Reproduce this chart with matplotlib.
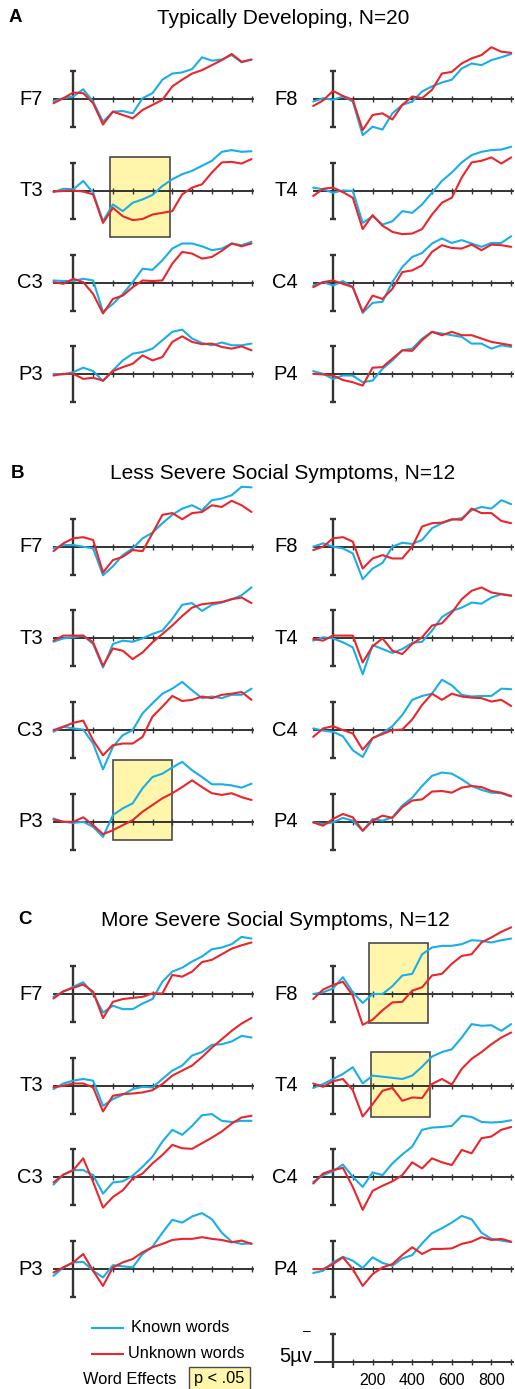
import numpy as np
import matplotlib
matplotlib.use("Agg")
import matplotlib.pyplot as plt
from matplotlib.patches import Rectangle
from matplotlib.lines import Line2D

plt.rcParams['font.family'] = ['Liberation Sans', 'DejaVu Sans']

# time axis (ms) of the sampled waveforms
times = np.arange(-100, 901, 50)

# amplitudes in microvolts read as upward deflections (the figure plots negative up)
# Section A: Typically Developing, N=20
A_F7_known = [-0.3, 0.2, 0.5, 1.8, -0.4, -4.0, -2.2, -2.1, -2.5, 0.2, 1.1, 3.5, 4.6, 4.8, 5.4, 7.5, 6.9, 7.1, 7.9, 6.6, 7.1]
A_F7_unknown = [-0.7, 0.2, 1.2, 1.1, -0.7, -4.5, -2.2, -2.8, -3.4, -1.9, -1.0, -0.1, 2.3, 3.5, 4.6, 5.2, 6.1, 7.0, 8.1, 6.7, 7.1]
A_T3_known = [-0.2, 0.4, 0.3, 1.8, -0.3, -5.4, -2.4, -3.6, -2.1, -1.5, -0.7, 0.9, 2.1, 3.0, 3.6, 4.5, 5.4, 7.0, 7.3, 7.0, 7.1]
A_T3_unknown = [-0.1, 0.0, 0.1, -0.1, -0.6, -5.7, -3.0, -4.5, -5.2, -5.0, -4.2, -3.9, -3.6, -0.6, 0.6, 1.2, 3.3, 5.1, 5.2, 4.9, 5.7]
A_C3_known = [0.4, 0.3, 0.3, 0.7, 0.4, -5.2, -3.8, -2.0, 0.1, 2.5, 2.3, 4.0, 6.1, 7.0, 7.0, 6.5, 5.8, 6.1, 7.0, 6.7, 7.3]
A_C3_unknown = [0.1, -0.2, 0.7, 0.1, -2.0, -5.5, -2.9, -2.3, -0.8, 0.4, 0.3, 0.4, 3.4, 5.5, 5.2, 4.3, 4.6, 5.7, 7.0, 6.5, 7.0]
A_P3_known = [0.1, 0.0, 0.4, 1.2, 0.6, -1.2, 0.7, 2.5, 3.7, 4.0, 4.6, 6.1, 7.6, 8.0, 6.4, 5.6, 5.2, 5.7, 5.2, 5.2, 5.5]
A_P3_unknown = [-0.2, 0.1, 0.1, -0.8, -0.6, -1.1, 0.6, 1.3, 1.9, 3.4, 2.5, 3.1, 5.8, 6.8, 5.8, 5.4, 5.5, 4.9, 4.6, 5.0, 4.3]
A_F8_known = [-0.4, 0.2, -0.1, 0.5, -0.4, -6.4, -4.9, -5.4, -2.5, -1.0, -0.4, 1.4, 2.3, 3.0, 3.5, 5.5, 6.4, 6.1, 7.0, 7.5, 8.1]
A_F8_unknown = [-1.2, -0.2, 1.5, 0.6, -0.1, -5.5, -2.8, -2.5, -3.6, -1.0, 0.5, 0.2, 1.7, 4.6, 4.9, 6.4, 7.3, 7.9, 9.3, 8.5, 8.3]
A_T4_known = [0.6, 0.3, -0.3, 0.1, 0.0, -5.7, -4.5, -6.0, -5.4, -3.6, -3.9, -2.4, -0.3, 1.8, 3.3, 5.1, 6.4, 7.0, 7.3, 7.4, 7.9]
A_T4_unknown = [-0.9, 0.4, 0.6, -0.2, -1.2, -6.8, -4.3, -6.2, -7.3, -7.7, -7.6, -6.8, -4.2, -2.1, -1.2, 2.4, 5.1, 5.4, 6.0, 4.9, 6.0]
A_C4_known = [-0.5, 0.1, -0.5, 0.3, -0.8, -5.4, -3.6, -3.4, 0.1, 2.8, 4.6, 5.3, 7.0, 7.9, 7.1, 7.6, 7.0, 6.4, 7.1, 7.1, 8.3]
A_C4_unknown = [-0.8, 0.1, 0.4, -0.2, -0.8, -5.2, -2.3, -2.9, -1.1, 1.9, 2.2, 3.1, 5.5, 6.7, 6.2, 6.1, 6.8, 5.8, 6.8, 6.7, 6.4]
A_P4_known = [0.6, 0.1, -0.8, -0.2, -0.2, -1.4, -1.1, 1.0, 2.5, 4.3, 4.6, 6.4, 7.6, 7.3, 7.0, 6.7, 5.5, 5.5, 4.6, 5.2, 4.9]
A_P4_unknown = [0.1, 0.0, -0.2, -1.0, -1.4, -2.0, 1.2, 1.3, 2.8, 4.3, 4.2, 6.1, 7.6, 7.0, 7.6, 7.0, 7.0, 6.4, 5.8, 5.5, 5.2]

# Section B: Less Severe Social Symptoms, N=12
B_F7_known = [-0.3, 0.3, 0.3, 0.0, -0.3, -5.1, -3.5, -1.5, -0.3, 1.5, 2.5, 4.2, 5.7, 6.8, 7.4, 6.5, 8.3, 8.6, 9.2, 10.7, 10.6]
B_F7_unknown = [-0.8, 0.6, 1.5, 1.7, 1.2, -4.6, -2.4, -1.8, -0.6, -0.8, 2.4, 5.7, 6.0, 4.9, 6.0, 6.2, 7.4, 7.1, 8.2, 7.4, 6.2]
B_T3_known = [-0.6, 0.0, 0.2, 0.5, -1.0, -5.2, -1.0, -0.4, -0.6, 0.0, 0.8, 1.4, 3.5, 6.0, 6.3, 4.9, 6.0, 6.4, 7.0, 7.7, 9.1]
B_T3_unknown = [-0.4, 0.5, 0.5, 0.5, -0.7, -4.9, -1.8, -2.2, -3.7, -2.5, -0.7, 0.8, 2.3, 4.0, 5.5, 6.1, 6.3, 6.5, 7.0, 7.3, 6.3]
B_C3_known = [-0.3, 0.6, 0.3, 0.1, -2.4, -7.0, -3.0, -0.9, 0.0, 3.0, 4.8, 6.5, 7.4, 8.6, 7.1, 5.7, 6.0, 5.7, 6.3, 6.3, 7.4]
B_C3_unknown = [0.0, 0.6, 1.3, 1.7, -1.8, -4.5, -2.7, -2.4, -2.4, -1.2, 2.4, 4.2, 6.1, 5.2, 5.4, 6.0, 5.7, 6.3, 6.5, 6.8, 5.4]
B_P3_known = [0.6, 0.0, -0.2, 0.0, -0.9, -2.7, 1.2, 2.4, 3.3, 6.0, 8.0, 8.6, 9.7, 10.7, 9.2, 8.0, 6.7, 6.7, 6.5, 6.1, 6.8]
B_P3_unknown = [0.4, 0.0, 0.0, 0.8, -0.6, -2.2, -1.5, -0.6, 0.3, 1.8, 3.0, 4.2, 5.1, 6.2, 7.4, 6.2, 5.1, 4.8, 5.1, 4.4, 3.9]
B_F8_known = [0.0, 0.6, 0.0, -0.3, -1.2, -5.8, -3.9, -2.9, 0.0, 0.7, 0.5, 1.2, 3.3, 4.2, 4.8, 5.1, 6.5, 7.1, 6.8, 8.3, 7.6]
B_F8_unknown = [-0.6, 0.0, 1.5, 1.7, 0.9, -3.9, -2.1, -1.5, -2.1, -2.1, 0.0, 3.6, 4.2, 4.3, 4.9, 4.8, 6.8, 6.0, 6.0, 4.6, 4.2]
B_T4_known = [-0.4, 0.2, 0.0, -0.7, -1.6, -6.4, -1.2, -1.9, -2.6, -1.9, -0.8, -0.6, 1.4, 3.8, 4.9, 5.5, 6.4, 6.2, 7.3, 7.9, 7.7]
B_T4_unknown = [-0.1, -0.4, 0.5, 0.5, 0.5, -4.3, -1.4, 0.0, -2.2, -2.8, -1.0, 0.2, 2.3, 2.7, 4.6, 7.0, 8.5, 9.1, 8.2, 7.9, 7.6]
B_C4_known = [0.3, -0.1, -0.3, -1.1, -3.6, -4.8, -1.5, -0.5, 0.7, 2.7, 5.4, 6.1, 6.5, 9.0, 8.0, 6.3, 6.0, 6.1, 6.1, 7.4, 7.3]
B_C4_unknown = [-1.2, 0.3, 0.7, 0.0, -0.6, -3.5, -1.4, -0.7, 0.0, 0.1, 1.9, 4.5, 6.5, 5.4, 6.5, 6.0, 5.8, 5.7, 5.1, 5.4, 4.3]
B_P4_known = [-0.1, -0.4, -0.1, 0.7, 0.2, -1.6, 0.5, 0.2, 0.8, 2.9, 4.3, 6.4, 8.2, 8.8, 8.6, 7.6, 6.4, 5.7, 5.2, 5.1, 4.5]
B_P4_unknown = [-0.1, -0.7, 0.5, 1.4, 0.8, -1.6, 0.2, 1.1, 0.7, 2.6, 3.8, 4.0, 5.4, 5.5, 5.2, 6.1, 6.4, 6.2, 5.5, 5.2, 4.6]

# Section C: More Severe Social Symptoms, N=12
C_F7_known = [-0.5, 0.4, 1.3, 2.1, 0.1, -3.3, -2.1, -2.7, -2.7, -1.7, -0.9, 2.2, 4.0, 4.7, 5.8, 6.7, 8.0, 8.3, 8.9, 10.2, 9.9]
C_F7_unknown = [-0.8, 0.5, 1.1, 1.7, 0.4, -4.3, -1.4, -0.9, -0.7, -0.5, 0.1, 0.1, 3.4, 3.1, 4.0, 5.7, 6.1, 7.1, 8.1, 8.7, 9.2]
C_T3_known = [-0.6, 0.4, 0.9, 1.2, 0.9, -3.6, -2.4, -1.6, -0.6, -0.2, -0.3, 1.2, 2.7, 3.6, 5.4, 6.0, 7.3, 7.4, 7.9, 8.9, 8.6]
C_T3_unknown = [-0.3, 0.0, 0.4, 0.4, -0.3, -4.6, -1.8, -1.5, -1.4, -1.2, -0.8, 0.3, 1.8, 2.7, 3.6, 5.1, 6.8, 8.3, 9.8, 11.1, 12.1]
C_C3_known = [-1.3, 0.5, 1.3, 1.3, 0.4, -2.9, -0.9, -0.7, 0.3, 1.9, 3.7, 6.4, 8.5, 7.6, 9.2, 11.1, 11.3, 10.1, 9.9, 10.1, 10.1]
C_C3_unknown = [-0.9, 0.5, 1.3, 3.4, -0.8, -5.4, -3.5, -2.3, -0.2, 0.7, 2.5, 4.0, 5.8, 5.2, 5.1, 6.1, 7.1, 8.2, 9.6, 10.7, 11.0]
C_P3_known = [-1.2, 0.3, 1.2, 1.3, -0.3, -1.5, 0.7, 0.5, 0.3, 2.7, 4.0, 6.5, 8.8, 8.3, 9.4, 10.0, 8.9, 6.5, 4.9, 4.5, 4.6]
C_P3_unknown = [-0.6, 0.3, 1.2, 2.7, -0.3, -3.0, 0.3, 1.2, 1.8, 3.0, 3.9, 4.5, 5.2, 5.4, 5.4, 5.7, 5.4, 5.2, 4.8, 5.1, 4.5]
C_F8_known = [0.0, 0.3, 1.0, 3.0, 0.3, -1.6, 0.0, 0.0, 1.4, 3.3, 3.6, 7.1, 8.3, 8.6, 8.6, 8.9, 9.6, 9.5, 9.2, 9.6, 9.9]
C_F8_unknown = [-0.9, 0.8, 1.6, 2.2, -0.3, -5.5, -4.6, -2.9, -1.5, -1.4, 0.6, 1.2, 3.3, 3.6, 5.4, 6.8, 7.1, 9.2, 10.1, 11.1, 11.9]
C_T4_known = [-0.4, 0.3, 1.2, 2.1, 3.3, 0.4, 1.8, 1.6, 1.4, 1.2, 1.8, 3.4, 5.2, 6.0, 6.5, 8.6, 11.0, 10.7, 10.8, 9.8, 11.0]
C_T4_unknown = [0.4, -0.2, 0.8, 1.2, -0.8, -5.5, -3.3, -0.9, -0.4, -2.7, -2.1, -2.2, 0.3, 1.2, 0.2, 3.0, 4.8, 6.0, 7.4, 8.6, 9.5]
C_C4_known = [-0.8, 0.4, 1.1, 2.3, 0.1, -1.7, 0.9, 0.4, 2.5, 4.1, 5.5, 8.5, 8.9, 9.0, 9.2, 11.0, 10.8, 9.9, 9.8, 9.9, 10.2]
C_C4_unknown = [-1.1, 0.7, 1.3, 1.7, -1.7, -5.8, -2.4, -1.5, -0.7, 0.4, 2.7, 1.6, 3.4, 2.7, 2.2, 4.9, 4.3, 7.0, 7.3, 8.5, 9.0]
C_P4_known = [-0.7, -0.3, 1.2, 2.2, 1.5, 0.2, 2.1, 1.1, 0.6, 1.9, 2.5, 4.6, 6.4, 7.3, 8.3, 9.5, 8.9, 6.5, 5.4, 5.1, 4.8]
C_P4_unknown = [0.0, 0.0, 0.9, 2.1, 0.0, -3.0, -0.9, 0.3, 0.9, 2.5, 3.9, 2.7, 3.6, 3.6, 3.7, 4.5, 4.9, 5.7, 5.2, 5.4, 4.9]

sections = ['A', 'B', 'C']
section_titles = ['Typically Developing, N=20',
                  'Less Severe Social Symptoms, N=12',
                  'More Severe Social Symptoms, N=12']
left_sites = ['F7', 'T3', 'C3', 'P3']
right_sites = ['F8', 'T4', 'C4', 'P4']
scale_ticks = [200, 400, 600, 800]

# significant word effects: (section, site, t_start, t_end, uV_low, uV_high)
effect_boxes = [
    ('A', 'T3', 185, 490, -8.3, 6.1),
    ('B', 'P3', 200, 497, -3.2, 11.0),
    ('C', 'F8', 180, 480, -5.1, 9.1),
    ('C', 'T4', 192, 490, -5.5, 6.1),
]

data = {}
for s in sections:
    for site in left_sites + right_sites:
        data[(s, site)] = (globals()[f'{s}_{site}_known'], globals()[f'{s}_{site}_unknown'])

KNOWN = '#19aee8'
UNKNOWN = '#e8262c'
AXC = '#333333'
BOXFACE = '#fff6ac'

# ---- layout (pixels) ----
W, H = 515, 1389
PX_MS = 0.198      # px per ms
PX_UV = 5.6        # px per microvolt
col_zero = [73.3, 333.0]
label_right = [43, 298]
section_base = [99.3, 546.7, 994.0]
title_y = [18, 473, 920]
title_x = [283, 283, 275]
letter_x = [9, 11, 18]
row_step = 91.7
XL = (-110, 910)
YL = (-8, 8)

fig = plt.figure(figsize=(W / 100, H / 100), dpi=100)


def add_panel(zero_x, base_y):
    left = zero_x + XL[0] * PX_MS
    width = (XL[1] - XL[0]) * PX_MS
    top = base_y - YL[1] * PX_UV
    height = (YL[1] - YL[0]) * PX_UV
    ax = fig.add_axes([left / W, 1 - (top + height) / H, width / W, height / H])
    ax.set_xlim(*XL)
    ax.set_ylim(*YL)
    ax.axis('off')
    ax.patch.set_alpha(0)
    return ax


def draw_axis(ax, bar=(-5, 5)):
    ax.plot([-95, 910], [0, 0], color=AXC, lw=1.4, clip_on=False, zorder=3)
    ax.vlines(np.arange(100, 901, 100), -0.55, 0.55, color=AXC, lw=1.0, clip_on=False, zorder=3)
    ax.vlines(0, bar[0], bar[1], color=AXC, lw=1.7, clip_on=False, zorder=3)
    ax.hlines(list(bar), -16, 16, color=AXC, lw=1.7, clip_on=False, zorder=3)


line_kw = dict(lw=1.5, clip_on=False, solid_joinstyle='round', solid_capstyle='round')

for si, s in enumerate(sections):
    fig.text(letter_x[si] / W, 1 - title_y[si] / H, s, fontsize=13.5, fontweight='bold',
             va='center', ha='left')
    fig.text(title_x[si] / W, 1 - title_y[si] / H, section_titles[si], fontsize=15,
             va='center', ha='center')
    for ci, sites in enumerate([left_sites, right_sites]):
        for ri, site in enumerate(sites):
            base = section_base[si] + ri * row_step
            ax = add_panel(col_zero[ci], base)
            for (bs, bsite, t0, t1, v0, v1) in effect_boxes:
                if bs == s and bsite == site:
                    ax.add_patch(Rectangle((t0, v0), t1 - t0, v1 - v0, facecolor=BOXFACE,
                                           edgecolor='#4a4a4a', lw=1.2, clip_on=False, zorder=1))
            draw_axis(ax)
            known, unknown = data[(s, site)]
            ax.plot(times, known, color=KNOWN, zorder=4, **line_kw)
            ax.plot(times, unknown, color=UNKNOWN, zorder=5, **line_kw)
            fig.text(label_right[ci] / W, 1 - base / H, site, fontsize=14.5,
                     ha='right', va='center')

# ---- scale axis ----
scale_base = 1362
sax = add_panel(col_zero[1], scale_base)
sax.plot([-90, 910], [0, 0], color=AXC, lw=1.4, clip_on=False)
sax.vlines(np.arange(100, 901, 100), -0.55, 0.55, color=AXC, lw=1.0, clip_on=False)
sax.vlines(0, -1, 5, color=AXC, lw=1.7, clip_on=False)
sax.hlines([5], -16, 16, color=AXC, lw=1.7, clip_on=False)
for t in scale_ticks:
    sax.text(t, -2.0, str(t), ha='center', va='top', fontsize=11.5)
fig.text(312 / W, 1 - 1357 / H, '5µv', fontsize=14.5, ha='right', va='center')
fig.text(307 / W, 1 - 1331 / H, '–', fontsize=10, ha='center', va='center')

# ---- legend ----
fig.add_artist(Line2D([92 / W, 123 / W], [1 - 1328 / H] * 2, color=KNOWN, lw=1.5))
fig.add_artist(Line2D([92 / W, 123 / W], [1 - 1354 / H] * 2, color=UNKNOWN, lw=1.5))
fig.text(131 / W, 1 - 1328 / H, 'Known words', fontsize=11.8, va='center', ha='left')
fig.text(128 / W, 1 - 1354 / H, 'Unknown words', fontsize=11.8, va='center', ha='left')
fig.text(83 / W, 1 - 1379 / H, 'Word Effects', fontsize=11.8, va='center', ha='left')
fig.text(219.5 / W, 1 - 1379 / H, 'p < .05', fontsize=11.8, va='center', ha='center',
         bbox=dict(boxstyle='square,pad=0.3', facecolor=BOXFACE, edgecolor='#4a4a4a', lw=1.0))

fig.savefig('out.png', dpi=100)
